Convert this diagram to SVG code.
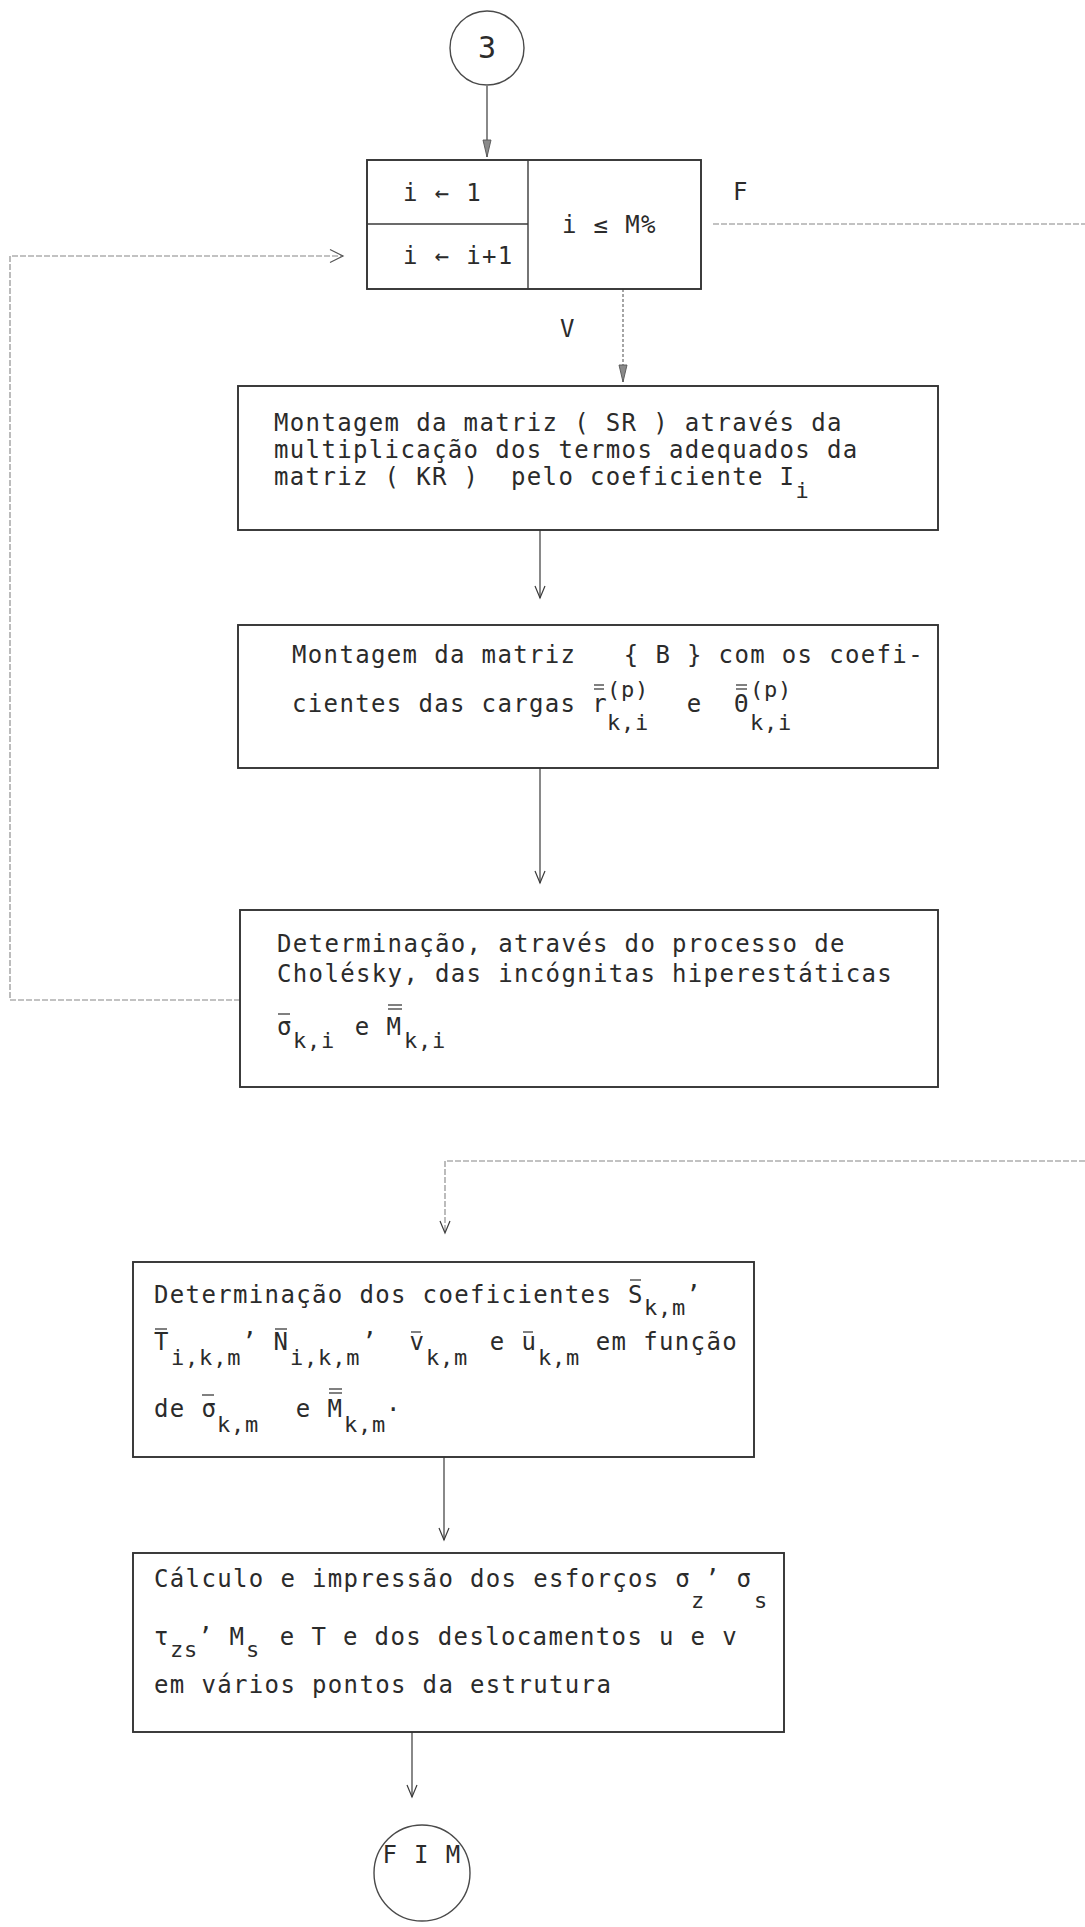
<svg xmlns="http://www.w3.org/2000/svg" width="1085" height="1927" viewBox="0 0 1085 1927">
  <style>
    .t { font-family: "DejaVu Sans Mono", "Liberation Mono", monospace; font-size: 24px; letter-spacing: 1.35px; fill: #2b2b2b; white-space: pre; }
    .s { font-size: 22px; letter-spacing: 0.8px; }
    .big { font-size: 30px; letter-spacing: 0; }
    .box { fill: none; stroke: #333333; stroke-width: 1.9; }
    .div { fill: none; stroke: #3a3a3a; stroke-width: 1.4; }
    .node-circle { fill: none; stroke: #4a4a4a; stroke-width: 1.4; }
    .ln { fill: none; stroke: #3a3a3a; stroke-width: 1.2; }
    .dot { fill: none; stroke: #6a6a6a; stroke-width: 1.2; stroke-dasharray: 3 2; }
    .faint { fill: none; stroke: #858585; stroke-width: 1.1; stroke-dasharray: 6 2; }
    .bar { stroke: #2b2b2b; stroke-width: 1.2; }
  </style>
  <defs>
    <marker id="vhead" viewBox="-14 -7 16 14" refX="0" refY="0" markerWidth="16" markerHeight="14" markerUnits="userSpaceOnUse" orient="auto">
      <path d="M-12,-5 L0,0 L-12,5" fill="none" stroke="#3a3a3a" stroke-width="1.2"/>
    </marker>
    <marker id="fhead" viewBox="-19 -6 21 12" refX="0" refY="0" markerWidth="21" markerHeight="12" markerUnits="userSpaceOnUse" orient="auto">
      <path d="M-17,-4 L0,0 L-17,4 Z" fill="#8a8a8a" stroke="#555" stroke-width="0.9"/>
    </marker>
    <marker id="chev" viewBox="-15 -9 17 18" refX="0" refY="0" markerWidth="17" markerHeight="18" markerUnits="userSpaceOnUse" orient="auto">
      <path d="M-13,-6.5 L0,0 L-13,6.5" fill="none" stroke="#555" stroke-width="1.2"/>
    </marker>
  </defs>

  <rect width="1085" height="1927" fill="#ffffff"/>

  <!-- connectors -->
  <g id="connectors">
    <path class="ln" d="M487,86 V157" marker-end="url(#fhead)"/>
    <path class="dot" d="M623,289 V382" marker-end="url(#fhead)"/>
    <path class="ln" d="M540,530 V598" marker-end="url(#vhead)"/>
    <path class="ln" d="M540,768 V883" marker-end="url(#vhead)"/>
    <path class="faint" d="M240,1000 H10 V256 H343" marker-end="url(#chev)"/>
    <path class="faint" d="M713,224 H1085"/>
    <path class="faint" d="M1085,1161 H445 V1233" marker-end="url(#vhead)"/>
    <path class="ln" d="M444,1457 V1540" marker-end="url(#vhead)"/>
    <path class="ln" d="M412,1732 V1797" marker-end="url(#vhead)"/>
    <text class="t" x="733" y="200">F</text>
    <text class="t" x="560" y="337">V</text>
  </g>

  <!-- connector 3 -->
  <g id="n-start">
    <circle class="node-circle" cx="487" cy="48" r="37"/>
    <text class="t big" x="487" y="58" text-anchor="middle">3</text>
  </g>

  <!-- loop control: initialise / increment / test -->
  <g id="n-loop">
    <rect class="box" x="367" y="160" width="334" height="129"/>
    <line class="div" x1="528" y1="160" x2="528" y2="289"/>
    <line class="div" x1="367" y1="224" x2="528" y2="224"/>
    <text class="t" x="403" y="201">i ← 1</text>
    <text class="t" x="403" y="264">i ← i+1</text>
    <text class="t" x="562" y="233">i ≤ M%</text>
  </g>

  <!-- assemble SR -->
  <g id="n-montagem-sr">
    <rect class="box" x="238" y="386" width="700" height="144"/>
    <text class="t" x="274" y="431">Montagem da matriz ( SR ) através da</text>
    <text class="t" x="274" y="458">multiplicação dos termos adequados da</text>
    <text class="t" x="274" y="485">matriz ( KR )  pelo coeficiente I<tspan class="s" y="498">i</tspan></text>
  </g>

  <!-- assemble B -->
  <g id="n-montagem-b">
    <rect class="box" x="238" y="625" width="700" height="143"/>
    <text class="t" x="292" y="663">Montagem da matriz   { B } com os coefi-</text>
    <text class="t" x="292" y="712">cientes das cargas r<tspan class="s" x="607" y="697">(p)</tspan><tspan class="s" x="607" y="730">k,i</tspan><tspan x="671" y="712"> e</tspan><tspan x="734" y="712">Θ</tspan><tspan class="s" x="750" y="697">(p)</tspan><tspan class="s" x="750" y="730">k,i</tspan></text>
    <line class="bar" x1="594" y1="685" x2="604" y2="685"/>
    <line class="bar" x1="594" y1="689" x2="604" y2="689"/>
    <line class="bar" x1="736" y1="685" x2="747" y2="685"/>
    <line class="bar" x1="736" y1="689" x2="747" y2="689"/>
  </g>

  <!-- Cholesky solve -->
  <g id="n-cholesky">
    <rect class="box" x="240" y="910" width="698" height="177"/>
    <text class="t" x="277" y="952">Determinação, através do processo de</text>
    <text class="t" x="277" y="982">Cholésky, das incógnitas hiperestáticas</text>
    <text class="t" x="277" y="1035">σ<tspan class="s" x="293" y="1048">k,i</tspan><tspan x="339" y="1035"> e M</tspan><tspan class="s" x="404" y="1048">k,i</tspan></text>
    <line class="bar" x1="278" y1="1014" x2="290" y2="1014"/>
    <line class="bar" x1="388" y1="1005" x2="402" y2="1005"/>
    <line class="bar" x1="388" y1="1009" x2="402" y2="1009"/>
  </g>

  <!-- coefficients -->
  <g id="n-coeficientes">
    <rect class="box" x="133" y="1262" width="621" height="195"/>
    <text class="t" x="154" y="1303">Determinação dos coeficientes S<tspan class="s" x="644" y="1315">k,m</tspan><tspan x="686" y="1303">’</tspan></text>
    <text class="t" x="154" y="1350">T<tspan class="s" x="171" y="1365">i,k,m</tspan><tspan x="242" y="1350">’ N</tspan><tspan class="s" x="290" y="1365">i,k,m</tspan><tspan x="362" y="1350">’  v</tspan><tspan class="s" x="426" y="1365">k,m</tspan><tspan x="474" y="1350"> e u</tspan><tspan class="s" x="538" y="1365">k,m</tspan><tspan x="580" y="1350"> em função</tspan></text>
    <text class="t" x="154" y="1417">de σ<tspan class="s" x="217" y="1432">k,m</tspan><tspan x="280" y="1417"> e M</tspan><tspan class="s" x="344" y="1432">k,m</tspan><tspan x="386" y="1411">.</tspan></text>
    <line class="bar" x1="630" y1="1280" x2="641" y2="1280"/>
    <line class="bar" x1="155" y1="1329" x2="167" y2="1329"/>
    <line class="bar" x1="275" y1="1329" x2="287" y2="1329"/>
    <line class="bar" x1="411" y1="1332" x2="421" y2="1332"/>
    <line class="bar" x1="523" y1="1332" x2="533" y2="1332"/>
    <line class="bar" x1="202" y1="1395" x2="214" y2="1395"/>
    <line class="bar" x1="329" y1="1389" x2="342" y2="1389"/>
    <line class="bar" x1="329" y1="1393" x2="342" y2="1393"/>
  </g>

  <!-- results output -->
  <g id="n-calculo">
    <rect class="box" x="133" y="1553" width="651" height="179"/>
    <text class="t" x="154" y="1587">Cálculo e impressão dos esforços σ<tspan class="s" x="691" y="1608">z</tspan><tspan x="705" y="1587">’ σ</tspan><tspan class="s" x="754" y="1608">s</tspan></text>
    <text class="t" x="154" y="1645">τ<tspan class="s" x="170" y="1657">zs</tspan><tspan x="198" y="1645">’ M</tspan><tspan class="s" x="246" y="1657">s</tspan><tspan x="264" y="1645"> e T e dos deslocamentos u e v</tspan></text>
    <text class="t" x="154" y="1693">em vários pontos da estrutura</text>
  </g>

  <!-- end -->
  <g id="n-fim">
    <circle class="node-circle" cx="422" cy="1873" r="48"/>
    <text class="t" x="422" y="1863" text-anchor="middle">F I M</text>
  </g>
</svg>
